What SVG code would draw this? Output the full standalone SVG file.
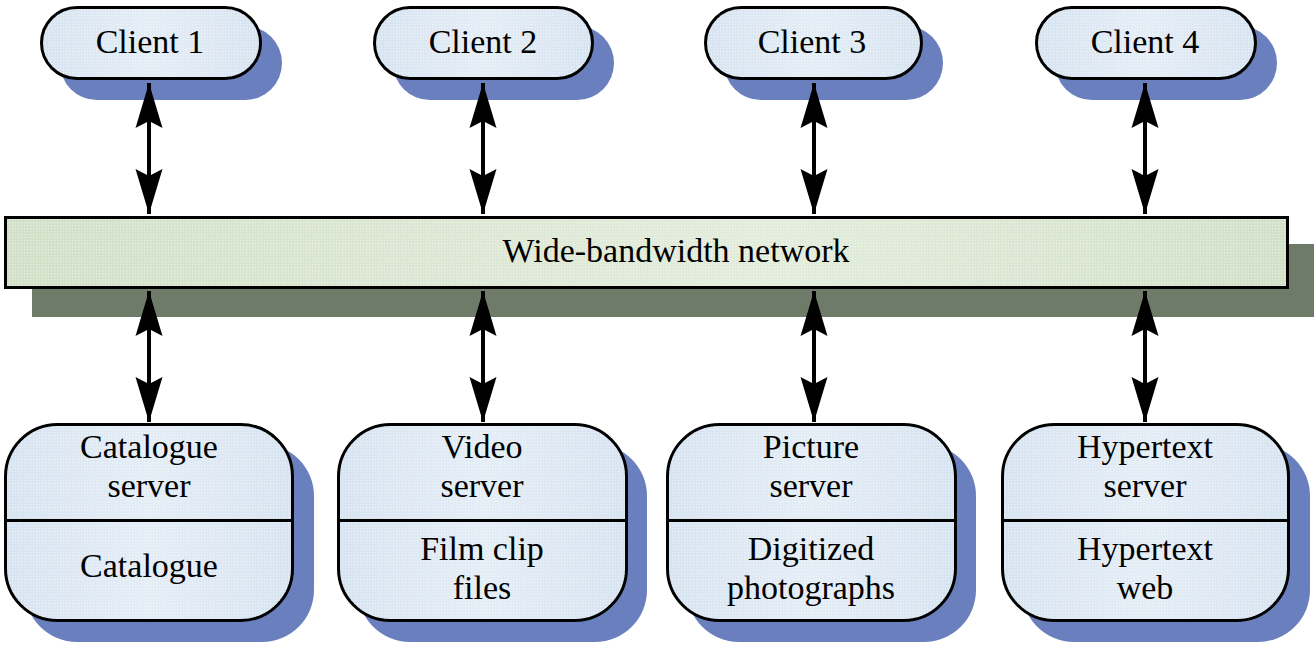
<svg xmlns="http://www.w3.org/2000/svg" width="1314" height="652" viewBox="0 0 1314 652">
  <style>
    text { font-family: 'Liberation Serif', 'Times New Roman', Times, 'DejaVu Serif', serif; font-size: 34px; fill: #000; text-anchor: middle; }
    .node { stroke: #000; stroke-width: 3; }
    .blueshadow { fill: #6a80be; }
    .greenshadow { fill: #6e7b68; }
    .conn { stroke: #000; stroke-width: 4; fill: none; marker-start: url(#head); marker-end: url(#head); }
    .div { stroke: #000; stroke-width: 3; }
  </style>
  <defs>
    <pattern id="dots" width="3" height="3" patternUnits="userSpaceOnUse">
      <rect x="0" y="0" width="1.3" height="1.3" fill="#ffffff"/>
    </pattern>
    <linearGradient id="blueg" x1="0" y1="0" x2="1" y2="0">
      <stop offset="0" stop-color="#d6e3f0"/>
      <stop offset="0.5" stop-color="#e4edf6"/>
      <stop offset="1" stop-color="#d6e3f0"/>
    </linearGradient>
    <linearGradient id="greeng" x1="0" y1="0" x2="1" y2="0">
      <stop offset="0" stop-color="#d2e0c8"/>
      <stop offset="0.6" stop-color="#e2ecdb"/>
      <stop offset="1" stop-color="#d2e0c8"/>
    </linearGradient>
    <marker id="head" viewBox="-46 -14 47 28" refX="0" refY="0" markerWidth="47" markerHeight="28" markerUnits="userSpaceOnUse" orient="auto-start-reverse">
      <path d="M0,0 L-45,-13.5 L-38,0 L-45,13.5 Z" fill="#000"/>
    </marker>
  </defs>

  <!-- Network -->
  <g id="network">
    <rect class="greenshadow" x="32" y="244" width="1282" height="73"/>
    <rect class="node" x="5.5" y="217.5" width="1282" height="70" fill="url(#greeng)"/>
    <rect x="7" y="219" width="1279" height="67" fill="url(#dots)" opacity="0.45"/>
    <text font-family="Liberation Serif, serif" x="676" y="262">Wide-bandwidth network</text>
  </g>

  <!-- Clients -->
  <g id="client1">
    <rect class="blueshadow" x="60" y="26" width="222" height="74" rx="37"/>
    <rect class="node" x="41.5" y="7.5" width="219" height="71" rx="35.5" fill="url(#blueg)"/>
    <rect x="43" y="9" width="216" height="68" rx="34" fill="url(#dots)" opacity="0.45"/>
    <text x="150" y="53">Client 1</text>
  </g>
  <g id="client2">
    <rect class="blueshadow" x="393" y="26" width="221" height="74" rx="37"/>
    <rect class="node" x="374.5" y="7.5" width="218" height="71" rx="35.5" fill="url(#blueg)"/>
    <rect x="376" y="9" width="215" height="68" rx="34" fill="url(#dots)" opacity="0.45"/>
    <text x="483" y="53">Client 2</text>
  </g>
  <g id="client3">
    <rect class="blueshadow" x="724" y="26" width="219" height="74" rx="37"/>
    <rect class="node" x="705.5" y="7.5" width="216" height="71" rx="35.5" fill="url(#blueg)"/>
    <rect x="707" y="9" width="213" height="68" rx="34" fill="url(#dots)" opacity="0.45"/>
    <text x="812" y="53">Client 3</text>
  </g>
  <g id="client4">
    <rect class="blueshadow" x="1055" y="26" width="222" height="74" rx="37"/>
    <rect class="node" x="1036.5" y="7.5" width="219" height="71" rx="35.5" fill="url(#blueg)"/>
    <rect x="1038" y="9" width="216" height="68" rx="34" fill="url(#dots)" opacity="0.45"/>
    <text x="1145" y="53">Client 4</text>
  </g>

  <!-- Servers -->
  <g id="catalogue-server">
    <rect class="blueshadow" x="25" y="444" width="289" height="198" rx="52"/>
    <rect class="node" x="5.5" y="424.5" width="287" height="196" rx="52" fill="url(#blueg)"/>
    <rect x="7" y="426" width="284" height="193" rx="50" fill="url(#dots)" opacity="0.45"/>
    <line class="div" x1="5.5" y1="520.5" x2="292.5" y2="520.5"/>
    <text x="149" y="458">Catalogue</text>
    <text x="149" y="497">server</text>
    <text x="149" y="577">Catalogue</text>
  </g>
  <g id="video-server">
    <rect class="blueshadow" x="358" y="444" width="289" height="198" rx="52"/>
    <rect class="node" x="338.5" y="424.5" width="288" height="196" rx="52" fill="url(#blueg)"/>
    <rect x="340" y="426" width="285" height="193" rx="50" fill="url(#dots)" opacity="0.45"/>
    <line class="div" x1="338.5" y1="520.5" x2="626.5" y2="520.5"/>
    <text x="482" y="458">Video</text>
    <text x="482" y="497">server</text>
    <text x="482" y="560">Film clip</text>
    <text x="482" y="599">files</text>
  </g>
  <g id="picture-server">
    <rect class="blueshadow" x="687" y="444" width="289" height="198" rx="52"/>
    <rect class="node" x="667.5" y="424.5" width="288" height="196" rx="52" fill="url(#blueg)"/>
    <rect x="669" y="426" width="285" height="193" rx="50" fill="url(#dots)" opacity="0.45"/>
    <line class="div" x1="667.5" y1="520.5" x2="955.5" y2="520.5"/>
    <text x="811" y="458">Picture</text>
    <text x="811" y="497">server</text>
    <text x="811" y="560">Digitized</text>
    <text x="811" y="599">photographs</text>
  </g>
  <g id="hypertext-server">
    <rect class="blueshadow" x="1022" y="444" width="288" height="198" rx="52"/>
    <rect class="node" x="1002.5" y="424.5" width="286" height="196" rx="52" fill="url(#blueg)"/>
    <rect x="1004" y="426" width="283" height="193" rx="50" fill="url(#dots)" opacity="0.45"/>
    <line class="div" x1="1002.5" y1="520.5" x2="1288.5" y2="520.5"/>
    <text x="1145" y="458">Hypertext</text>
    <text x="1145" y="497">server</text>
    <text x="1145" y="560">Hypertext</text>
    <text x="1145" y="599">web</text>
  </g>

  <!-- Connectors -->
  <g id="connectors">
    <line class="conn" x1="149" y1="83" x2="149" y2="214"/>
    <line class="conn" x1="483" y1="83" x2="483" y2="214"/>
    <line class="conn" x1="814" y1="83" x2="814" y2="214"/>
    <line class="conn" x1="1145" y1="83" x2="1145" y2="214"/>
    <line class="conn" x1="149" y1="291" x2="149" y2="422"/>
    <line class="conn" x1="483" y1="291" x2="483" y2="422"/>
    <line class="conn" x1="814" y1="291" x2="814" y2="422"/>
    <line class="conn" x1="1145" y1="291" x2="1145" y2="422"/>
  </g>
</svg>
